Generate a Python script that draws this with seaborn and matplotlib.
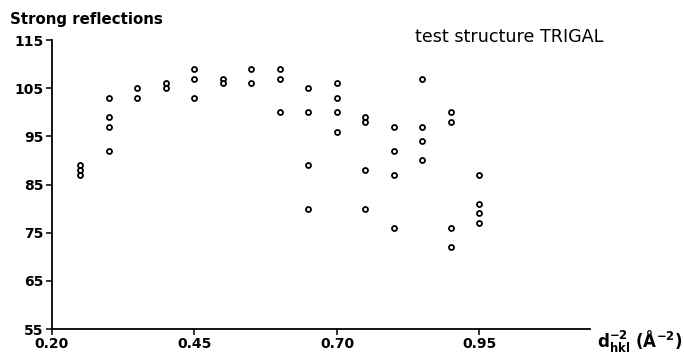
import matplotlib
matplotlib.use("Agg")
import matplotlib.pyplot as plt
import seaborn as sns
import pandas as pd

# data
d_inv2 = [0.25, 0.25, 0.25,
          0.30, 0.30, 0.30, 0.30,
          0.35, 0.35,
          0.40, 0.40,
          0.45, 0.45, 0.45,
          0.50, 0.50,
          0.55, 0.55,
          0.60, 0.60, 0.60,
          0.65, 0.65, 0.65, 0.65,
          0.70, 0.70, 0.70, 0.70,
          0.75, 0.75, 0.75, 0.75,
          0.80, 0.80, 0.80, 0.80,
          0.85, 0.85, 0.85, 0.85,
          0.90, 0.90, 0.90, 0.90,
          0.95, 0.95, 0.95, 0.95]
strength = [89, 88, 87,
            103, 99, 97, 92,
            105, 103,
            106, 105,
            109, 107, 103,
            107, 106,
            109, 106,
            109, 107, 100,
            105, 100, 89, 80,
            106, 103, 100, 96,
            99, 98, 88, 80,
            97, 92, 87, 76,
            107, 97, 94, 90,
            100, 98, 76, 72,
            87, 81, 79, 77]
x_ticks = [0.20, 0.45, 0.70, 0.95]
x_ticklabels = ["0.20", "0.45", "0.70", "0.95"]
y_ticks = [55, 65, 75, 85, 95, 105, 115]

sns.set_theme(style="white")
plt.rcParams['font.family'] = ['DejaVu Sans']

df = pd.DataFrame({"d": d_inv2, "I": strength})

fig = plt.figure(figsize=(6.84, 3.55), dpi=100)
ax = fig.add_axes([0.076, 0.0732, 0.7866, 0.8141])
sns.scatterplot(data=df, x="d", y="I", ax=ax, marker="o", s=13,
                facecolor="white", edgecolor="black", linewidth=1.3, zorder=3)

ax.set_xlim(0.20, 1.144)
ax.set_ylim(55, 115)
ax.set_xticks(x_ticks)
ax.set_xticklabels(x_ticklabels)
ax.set_yticks(y_ticks)
ax.set_xlabel("")
ax.set_ylabel("")
for s in ["top", "right"]:
    ax.spines[s].set_visible(False)
for s in ["left", "bottom"]:
    ax.spines[s].set_color("black")
    ax.spines[s].set_linewidth(1.3)
ax.tick_params(axis="both", direction="out", length=4, width=1.1, color="black",
               labelsize=10, pad=2, left=True, bottom=True)
for lab in ax.get_xticklabels() + ax.get_yticklabels():
    lab.set_fontweight("bold")
    lab.set_color("black")

fig.text(0.015, 0.945, "Strong reflections", fontsize=10.8, fontweight="bold",
         color="black", ha="left", va="center")
fig.text(0.607, 0.896, "test structure TRIGAL", fontsize=12.6, color="black",
         ha="left", va="center")
fig.text(0.873, 0.04, r"$\mathbf{d_{hkl}^{-2}}$ $\mathbf{(}$Å$\mathbf{^{-2})}$",
         fontsize=12, fontweight="bold", color="black", ha="left", va="center")

fig.savefig("out.png", dpi=100, facecolor="white")
